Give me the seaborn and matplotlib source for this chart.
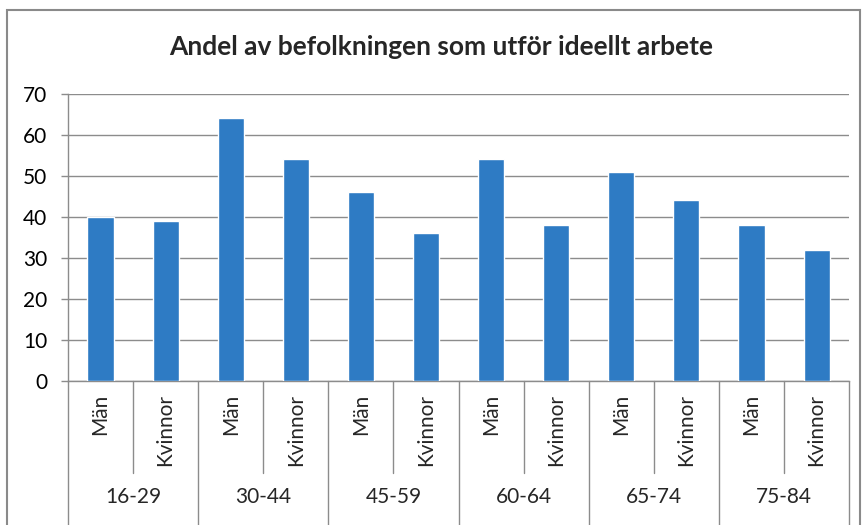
import matplotlib
matplotlib.use("Agg")
import matplotlib.pyplot as plt
import matplotlib.transforms as mtransforms
from matplotlib.patches import Rectangle
import pandas as pd
import seaborn as sns

# ---------------------------------------------------------
# Data
# ---------------------------------------------------------
age_groups = ["16-29", "30-44", "45-59", "60-64", "65-74", "75-84"]
sexes = ["Män", "Kvinnor"]
men = [40, 64, 46, 54, 51, 38]
women = [39, 54, 36, 38, 44, 32]

rows = []
for g, m, w in zip(age_groups, men, women):
    rows.append({"grupp": g, "kon": sexes[0], "andel": m})
    rows.append({"grupp": g, "kon": sexes[1], "andel": w})
df = pd.DataFrame(rows)
df["kategori"] = df["grupp"] + " " + df["kon"]

BAR_COLOR = "#2E7BC4"
GRID_COLOR = "#8C8C8C"
FONT = ["Lato", "DejaVu Sans"]
LABEL_SIZE = 15

sns.set_theme(style="white")
plt.rcParams["font.family"] = FONT

fig = plt.figure(figsize=(8.68, 5.25), dpi=100)
ax = fig.add_axes([0.0783, 0.2743, 0.900, 0.547])

sns.barplot(data=df, x="kategori", y="andel", color=BAR_COLOR, width=0.4,
            saturation=1, ax=ax, zorder=3)

ax.set_ylim(0, 70)
ax.set_xlim(-0.5, len(df) - 0.5)
ax.set_yticks(range(0, 71, 10))
ax.tick_params(axis="y", labelsize=LABEL_SIZE, colors="black", length=5, width=1,
               direction="out", left=True, color=GRID_COLOR, pad=10)
ax.yaxis.grid(True, color=GRID_COLOR, linewidth=1)
ax.set_axisbelow(True)
ax.set_xticks([])
ax.set_xlabel("")
ax.set_ylabel("")
for side in ["top", "right"]:
    ax.spines[side].set_visible(False)
for side in ["left", "bottom"]:
    ax.spines[side].set_color(GRID_COLOR)
    ax.spines[side].set_linewidth(1)

# Multi-level category axis
trans = mtransforms.blended_transform_factory(ax.transData, ax.transAxes)
for i, kat in enumerate(df["kon"]):
    ax.text(i, -0.045, kat, transform=trans, rotation=90, ha="center", va="top",
            fontsize=LABEL_SIZE)
for i in range(len(df) + 1):
    x = i - 0.5
    bottom = -0.6 if i % 2 == 0 else -0.32
    ax.plot([x, x], [0, bottom], transform=trans, color=GRID_COLOR,
            linewidth=1, clip_on=False)
for j, g in enumerate(age_groups):
    ax.text(2 * j + 0.5, -0.404, g, transform=trans, ha="center", va="center",
            fontsize=LABEL_SIZE)

fig.text(0.508, 0.91, "Andel av befolkningen som utför ideellt arbete",
         ha="center", va="center", fontsize=19, fontweight="bold")

fig.patches.append(Rectangle((7 / 868, -0.1), (860 - 7) / 868, 1 - 10 / 525 + 0.1,
                             transform=fig.transFigure, fill=False,
                             edgecolor="#8A8A8A", linewidth=1.5))

fig.savefig("out.png", dpi=100)
